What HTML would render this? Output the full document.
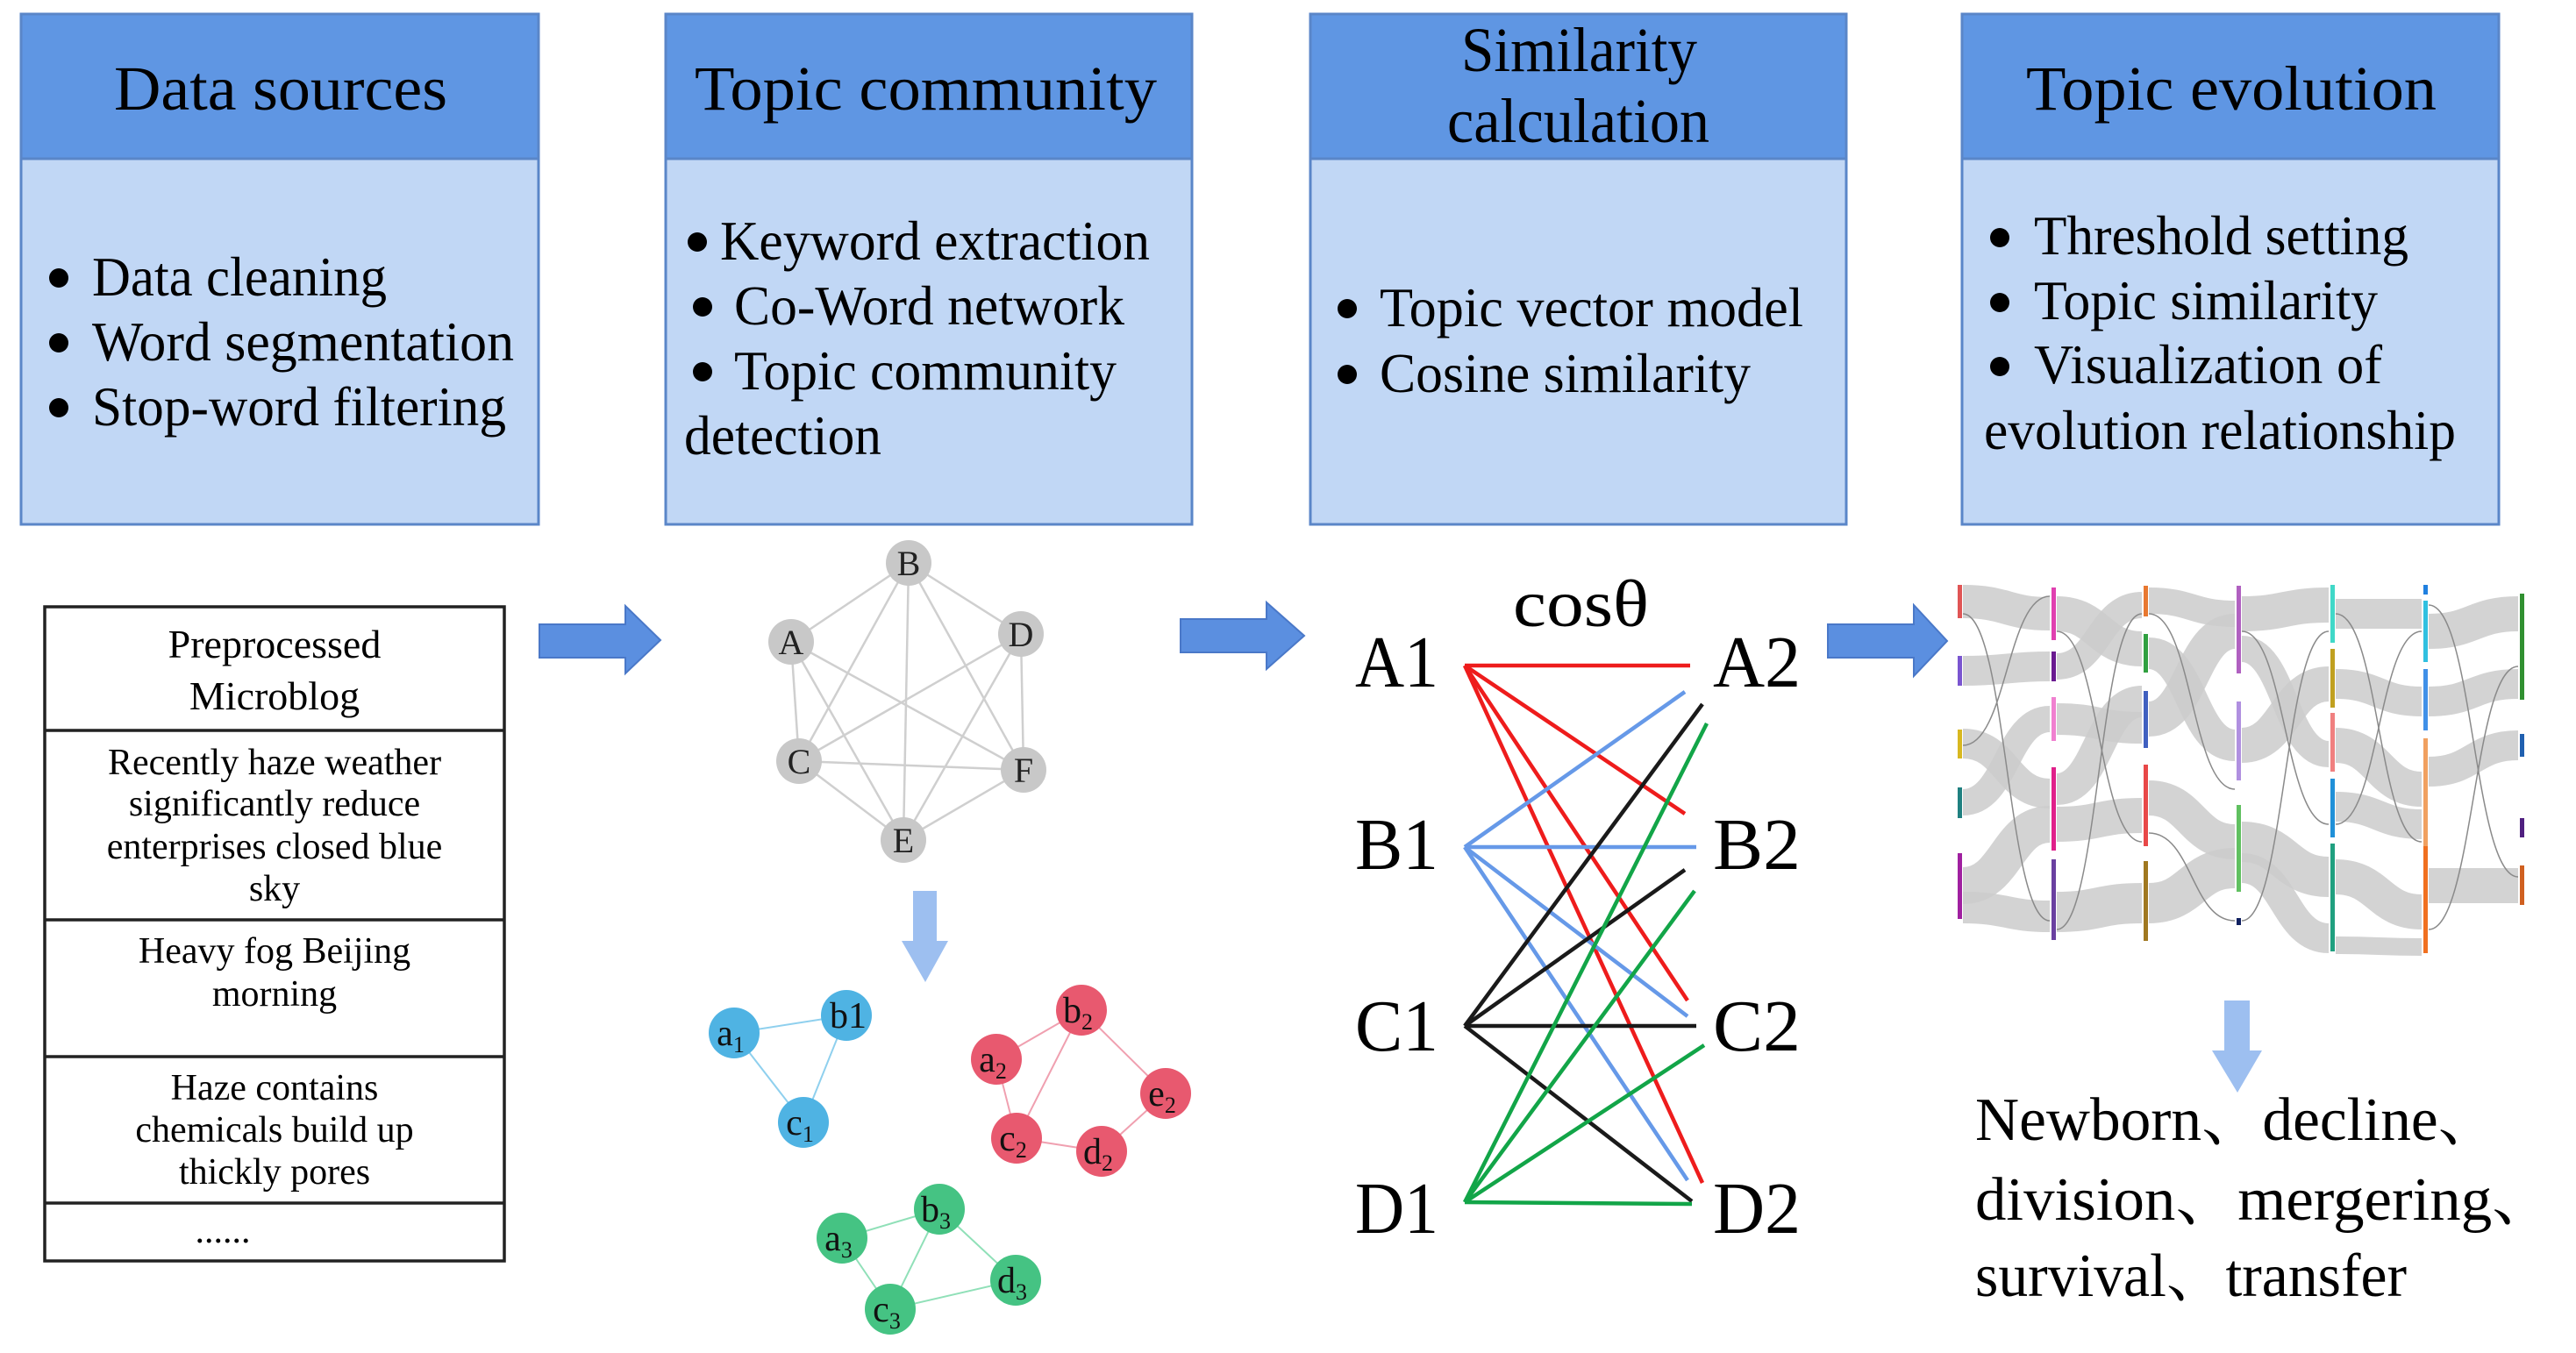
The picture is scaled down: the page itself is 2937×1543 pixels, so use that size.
<!DOCTYPE html>
<html><head><meta charset="utf-8"><style>html,body{margin:0;padding:0;background:#fff}svg{display:block}svg text{font-family:"Liberation Serif","Noto Serif CJK SC",serif}</style></head>
<body>
<svg width="2937" height="1543" viewBox="0 0 2937 1543" xmlns="http://www.w3.org/2000/svg">
<g stroke="#5a86c8" stroke-width="3">
<rect x="24" y="16" width="590" height="165" fill="#5f96e3"/><rect x="24" y="181" width="590" height="417" fill="#c1d7f5"/>
<rect x="759" y="16" width="600" height="165" fill="#5f96e3"/><rect x="759" y="181" width="600" height="417" fill="#c1d7f5"/>
<rect x="1494" y="16" width="611" height="165" fill="#5f96e3"/><rect x="1494" y="181" width="611" height="417" fill="#c1d7f5"/>
<rect x="2237" y="16" width="612" height="165" fill="#5f96e3"/><rect x="2237" y="181" width="612" height="417" fill="#c1d7f5"/>
</g>
<g fill="#000" font-size="72">
<text x="130" y="125" textLength="380" lengthAdjust="spacingAndGlyphs">Data sources</text>
<text x="792" y="125" textLength="527" lengthAdjust="spacingAndGlyphs">Topic community</text>
<text x="1666" y="81" textLength="269" lengthAdjust="spacingAndGlyphs">Similarity</text>
<text x="1650" y="162" textLength="299" lengthAdjust="spacingAndGlyphs">calculation</text>
<text x="2310" y="125" textLength="468" lengthAdjust="spacingAndGlyphs">Topic evolution</text>
</g>
<g fill="#000" font-size="64">
<circle cx="67" cy="317" r="11"/><circle cx="67" cy="391" r="11"/><circle cx="67" cy="465" r="11"/>
<text x="105" y="337" textLength="336" lengthAdjust="spacingAndGlyphs">Data cleaning</text>
<text x="105" y="411" textLength="481" lengthAdjust="spacingAndGlyphs">Word segmentation</text>
<text x="105" y="485" textLength="472" lengthAdjust="spacingAndGlyphs">Stop-word filtering</text>
<circle cx="795" cy="276" r="11"/><circle cx="801" cy="350" r="11"/><circle cx="801" cy="424" r="11"/>
<text x="821" y="296" textLength="490" lengthAdjust="spacingAndGlyphs">Keyword extraction</text>
<text x="837" y="370" textLength="445" lengthAdjust="spacingAndGlyphs">Co-Word network</text>
<text x="837" y="444" textLength="436" lengthAdjust="spacingAndGlyphs">Topic community</text>
<text x="780" y="518" textLength="225" lengthAdjust="spacingAndGlyphs">detection</text>
<circle cx="1536" cy="352" r="11"/><circle cx="1536" cy="427" r="11"/>
<text x="1573" y="372" textLength="483" lengthAdjust="spacingAndGlyphs">Topic vector model</text>
<text x="1573" y="447" textLength="423" lengthAdjust="spacingAndGlyphs">Cosine similarity</text>
<circle cx="2280" cy="271" r="11"/><circle cx="2280" cy="345" r="11"/><circle cx="2280" cy="418" r="11"/>
<text x="2319" y="290" textLength="427" lengthAdjust="spacingAndGlyphs">Threshold setting</text>
<text x="2319" y="364" textLength="392" lengthAdjust="spacingAndGlyphs">Topic similarity</text>
<text x="2319" y="437" textLength="397" lengthAdjust="spacingAndGlyphs">Visualization of</text>
<text x="2262" y="512" textLength="538" lengthAdjust="spacingAndGlyphs">evolution relationship</text>
</g>
<g fill="none" stroke="#222" stroke-width="3.5">
<rect x="51" y="692" width="524" height="746"/>
<line x1="51" y1="833" x2="575" y2="833"/><line x1="51" y1="1049" x2="575" y2="1049"/>
<line x1="51" y1="1205" x2="575" y2="1205"/><line x1="51" y1="1372" x2="575" y2="1372"/>
</g>
<g fill="#000" font-size="46" text-anchor="middle">
<text x="313" y="750">Preprocessed</text><text x="313" y="809">Microblog</text>
</g>
<g fill="#000" font-size="42" text-anchor="middle">
<text x="313" y="883">Recently haze weather</text>
<text x="313" y="930">significantly reduce</text>
<text x="313" y="979">enterprises closed blue</text>
<text x="313" y="1027">sky</text>
<text x="313" y="1098">Heavy fog Beijing</text>
<text x="313" y="1147">morning</text>
<text x="313" y="1254">Haze contains</text>
<text x="313" y="1302">chemicals build up</text>
<text x="313" y="1350">thickly pores</text>
<text x="254" y="1417">......</text>
</g>
<g fill="#5b8fe0" stroke="#4a78c8" stroke-width="2">
<polygon points="615,712 713,712 713,691 753,730 713,768 713,750 615,750"/>
<polygon points="1346,706 1444,706 1444,687 1487,725 1444,763 1444,744 1346,744"/>
<polygon points="2084,712 2182,712 2182,690 2220,731 2182,771 2182,750 2084,750"/>
</g>
<g fill="#9dbff0">
<polygon points="1041,1016 1068,1016 1068,1073 1081,1073 1055,1120 1028,1073 1041,1073"/>
<polygon points="2536,1141 2565,1141 2565,1198 2579,1198 2551,1246 2522,1198 2536,1198"/>
</g>
<g stroke="#cfcfcf" stroke-width="2.5">
<line x1="1036" y1="642" x2="902" y2="732"/><line x1="1036" y1="642" x2="1164" y2="723"/>
<line x1="1036" y1="642" x2="1030" y2="958"/><line x1="1036" y1="642" x2="911" y2="868"/>
<line x1="1036" y1="642" x2="1167" y2="878"/><line x1="902" y1="732" x2="911" y2="868"/>
<line x1="902" y1="732" x2="1167" y2="878"/><line x1="902" y1="732" x2="1030" y2="958"/>
<line x1="911" y1="868" x2="1164" y2="723"/><line x1="911" y1="868" x2="1167" y2="878"/>
<line x1="911" y1="868" x2="1030" y2="958"/><line x1="1164" y1="723" x2="1167" y2="878"/>
<line x1="1164" y1="723" x2="1030" y2="958"/><line x1="1167" y1="878" x2="1030" y2="958"/>
</g>
<g fill="#c8c8c8"><circle cx="1036" cy="642" r="26"/><circle cx="902" cy="732" r="26"/><circle cx="1164" cy="723" r="26"/><circle cx="911" cy="868" r="26"/><circle cx="1167" cy="878" r="26"/><circle cx="1030" cy="958" r="26"/></g>
<g fill="#222" font-size="40" text-anchor="middle">
<text x="1036" y="656">B</text><text x="902" y="746">A</text><text x="1164" y="737">D</text><text x="911" y="882">C</text><text x="1167" y="892">F</text><text x="1030" y="972">E</text>
</g>
<g stroke-width="2">
<g stroke="#8fd0ee"><line x1="837" y1="1178" x2="965" y2="1158"/><line x1="965" y1="1158" x2="916" y2="1280"/><line x1="837" y1="1178" x2="916" y2="1280"/></g>
<g stroke="#f0a0b0"><line x1="1136" y1="1208" x2="1233" y2="1152"/><line x1="1233" y1="1152" x2="1329" y2="1247"/><line x1="1329" y1="1247" x2="1256" y2="1313"/><line x1="1256" y1="1313" x2="1159" y2="1298"/><line x1="1159" y1="1298" x2="1136" y2="1208"/><line x1="1233" y1="1152" x2="1159" y2="1298"/></g>
<g stroke="#90e0b8"><line x1="960" y1="1412" x2="1071" y2="1379"/><line x1="1071" y1="1379" x2="1158" y2="1460"/><line x1="1158" y1="1460" x2="1015" y2="1493"/><line x1="1015" y1="1493" x2="960" y2="1412"/><line x1="1071" y1="1379" x2="1015" y2="1493"/></g>
</g>
<g fill="#4fb3e3"><circle cx="837" cy="1178" r="29"/><circle cx="965" cy="1158" r="29"/><circle cx="916" cy="1280" r="29"/></g>
<g fill="#e8596f"><circle cx="1233" cy="1152" r="29"/><circle cx="1136" cy="1208" r="29"/><circle cx="1329" cy="1247" r="29"/><circle cx="1159" cy="1298" r="29"/><circle cx="1256" cy="1313" r="29"/></g>
<g fill="#45c383"><circle cx="1071" cy="1379" r="29"/><circle cx="960" cy="1412" r="29"/><circle cx="1158" cy="1460" r="29"/><circle cx="1015" cy="1493" r="29"/></g>
<g fill="#111" font-size="42" text-anchor="middle">
<text x="833" y="1192">a<tspan font-size="26" dy="8">1</tspan></text>
<text x="967" y="1172">b1</text>
<text x="912" y="1294">c<tspan font-size="26" dy="8">1</tspan></text>
<text x="1229" y="1166">b<tspan font-size="26" dy="8">2</tspan></text>
<text x="1132" y="1222">a<tspan font-size="26" dy="8">2</tspan></text>
<text x="1325" y="1261">e<tspan font-size="26" dy="8">2</tspan></text>
<text x="1155" y="1312">c<tspan font-size="26" dy="8">2</tspan></text>
<text x="1252" y="1327">d<tspan font-size="26" dy="8">2</tspan></text>
<text x="1067" y="1393">b<tspan font-size="26" dy="8">3</tspan></text>
<text x="956" y="1426">a<tspan font-size="26" dy="8">3</tspan></text>
<text x="1154" y="1474">d<tspan font-size="26" dy="8">3</tspan></text>
<text x="1011" y="1507">c<tspan font-size="26" dy="8">3</tspan></text>
</g>
<g stroke-width="4.5" fill="none">
<g stroke="#ee1c1c"><line x1="1670" y1="759" x2="1927" y2="759"/><line x1="1670" y1="759" x2="1921" y2="928"/><line x1="1670" y1="759" x2="1924" y2="1141"/><line x1="1670" y1="759" x2="1941" y2="1349"/></g>
<g stroke="#6699e8"><line x1="1670" y1="966" x2="1921" y2="789"/><line x1="1670" y1="966" x2="1934" y2="966"/><line x1="1670" y1="966" x2="1924" y2="1159"/><line x1="1670" y1="966" x2="1924" y2="1346"/></g>
<g stroke="#1a1a1a"><line x1="1670" y1="1170" x2="1941" y2="803"/><line x1="1670" y1="1170" x2="1921" y2="992"/><line x1="1670" y1="1170" x2="1934" y2="1170"/><line x1="1670" y1="1170" x2="1929" y2="1370"/></g>
<g stroke="#12a548"><line x1="1670" y1="1371" x2="1946" y2="825"/><line x1="1670" y1="1371" x2="1932" y2="1016"/><line x1="1670" y1="1371" x2="1943" y2="1192"/><line x1="1670" y1="1371" x2="1929" y2="1373"/></g>
</g>
<g fill="#000" font-size="84">
<text x="1545" y="783" textLength="95" lengthAdjust="spacingAndGlyphs">A1</text>
<text x="1545" y="991" textLength="95" lengthAdjust="spacingAndGlyphs">B1</text>
<text x="1545" y="1198" textLength="95" lengthAdjust="spacingAndGlyphs">C1</text>
<text x="1545" y="1406" textLength="95" lengthAdjust="spacingAndGlyphs">D1</text>
<text x="1953" y="783" textLength="100" lengthAdjust="spacingAndGlyphs">A2</text>
<text x="1953" y="991" textLength="100" lengthAdjust="spacingAndGlyphs">B2</text>
<text x="1953" y="1198" textLength="100" lengthAdjust="spacingAndGlyphs">C2</text>
<text x="1953" y="1406" textLength="100" lengthAdjust="spacingAndGlyphs">D2</text>
<text x="1725" y="714" font-size="76" textLength="155" lengthAdjust="spacingAndGlyphs">cosθ</text>
</g>
<g fill="none" stroke="#cbcbcb" stroke-opacity="0.85">
<path d="M2238 686C2288 686 2288 700 2337 700" stroke-width="38"/>
<path d="M2238 765C2288 765 2288 760 2337 760" stroke-width="34"/>
<path d="M2238 848C2288 848 2288 905 2337 905" stroke-width="34"/>
<path d="M2238 915C2288 915 2288 820 2337 820" stroke-width="30"/>
<path d="M2238 1010C2288 1010 2288 940 2337 940" stroke-width="42"/>
<path d="M2238 1035C2288 1035 2288 1045 2337 1045" stroke-width="36"/>
<path d="M2345 700C2393 700 2393 740 2442 740" stroke-width="40"/>
<path d="M2345 760C2393 760 2393 690 2442 690" stroke-width="30"/>
<path d="M2345 820C2393 820 2393 830 2442 830" stroke-width="36"/>
<path d="M2345 900C2393 900 2393 800 2442 800" stroke-width="36"/>
<path d="M2345 940C2393 940 2393 930 2442 930" stroke-width="40"/>
<path d="M2345 1040C2393 1040 2393 1030 2442 1030" stroke-width="46"/>
<path d="M2450 685C2499 685 2499 700 2548 700" stroke-width="30"/>
<path d="M2450 745C2499 745 2499 850 2548 850" stroke-width="36"/>
<path d="M2450 820C2499 820 2499 720 2548 720" stroke-width="40"/>
<path d="M2450 910C2499 910 2499 960 2548 960" stroke-width="40"/>
<path d="M2450 1030C2499 1030 2499 990 2548 990" stroke-width="46"/>
<path d="M2556 700C2605 700 2605 690 2655 690" stroke-width="40"/>
<path d="M2556 740C2605 740 2605 860 2655 860" stroke-width="30"/>
<path d="M2556 850C2605 850 2605 780 2655 780" stroke-width="40"/>
<path d="M2556 960C2605 960 2605 1000 2655 1000" stroke-width="46"/>
<path d="M2556 990C2605 990 2605 1070 2655 1070" stroke-width="34"/>
<path d="M2663 700C2712 700 2712 700 2761 700" stroke-width="34"/>
<path d="M2663 780C2712 780 2712 800 2761 800" stroke-width="34"/>
<path d="M2663 850C2712 850 2712 900 2761 900" stroke-width="40"/>
<path d="M2663 920C2712 920 2712 940 2761 940" stroke-width="34"/>
<path d="M2663 1000C2712 1000 2712 1040 2761 1040" stroke-width="40"/>
<path d="M2663 1078C2712 1078 2712 1080 2761 1080" stroke-width="20"/>
<path d="M2769 720C2820 720 2820 700 2871 700" stroke-width="40"/>
<path d="M2769 800C2820 800 2820 780 2871 780" stroke-width="34"/>
<path d="M2769 880C2820 880 2820 850 2871 850" stroke-width="34"/>
<path d="M2769 1010C2820 1010 2820 1010 2871 1010" stroke-width="40"/>
</g>
<g fill="none" stroke="#8a8a8a" stroke-width="1.5">
<path d="M2238 700C2288 700 2288 1050 2337 1050"/><path d="M2238 850C2288 850 2288 680 2337 680"/>
<path d="M2345 720C2393 720 2393 960 2442 960"/><path d="M2345 1060C2393 1060 2393 700 2442 700"/>
<path d="M2450 950C2499 950 2499 1050 2548 1050"/><path d="M2450 700C2499 700 2499 900 2548 900"/>
<path d="M2556 720C2605 720 2605 940 2655 940"/><path d="M2556 1050C2605 1050 2605 720 2655 720"/>
<path d="M2663 940C2712 940 2712 720 2761 720"/><path d="M2663 700C2712 700 2712 960 2761 960"/>
<path d="M2769 1060C2820 1060 2820 760 2871 760"/><path d="M2769 690C2820 690 2820 1000 2871 1000"/>
</g>
<g>
<rect x="2232" y="667" width="5" height="38" fill="#e05555"/><rect x="2232" y="748" width="5" height="34" fill="#7a55d0"/><rect x="2232" y="832" width="5" height="33" fill="#d8b820"/><rect x="2232" y="898" width="5" height="35" fill="#1f8080"/><rect x="2232" y="973" width="5" height="75" fill="#a020a0"/>
<rect x="2339" y="670" width="5" height="60" fill="#e040b0"/><rect x="2339" y="743" width="5" height="34" fill="#6a1a90"/><rect x="2339" y="795" width="5" height="50" fill="#f080d0"/><rect x="2339" y="875" width="5" height="95" fill="#e0208a"/><rect x="2339" y="980" width="5" height="92" fill="#6a40a0"/>
<rect x="2444" y="668" width="5" height="35" fill="#e87830"/><rect x="2444" y="723" width="5" height="44" fill="#30a040"/><rect x="2444" y="788" width="5" height="65" fill="#4060c0"/><rect x="2444" y="872" width="5" height="93" fill="#e84848"/><rect x="2444" y="982" width="5" height="91" fill="#a07820"/>
<rect x="2550" y="668" width="5" height="100" fill="#b060c0"/><rect x="2550" y="800" width="5" height="90" fill="#b090e0"/><rect x="2550" y="918" width="5" height="99" fill="#60c060"/><rect x="2550" y="1047" width="5" height="8" fill="#102060"/>
<rect x="2657" y="667" width="5" height="66" fill="#40d8c8"/><rect x="2657" y="740" width="5" height="67" fill="#c0a020"/><rect x="2657" y="813" width="5" height="67" fill="#f08080"/><rect x="2657" y="888" width="5" height="67" fill="#2090d8"/><rect x="2657" y="962" width="5" height="123" fill="#20a080"/>
<rect x="2763" y="667" width="5" height="11" fill="#2080e0"/><rect x="2763" y="685" width="5" height="70" fill="#30c0e0"/><rect x="2763" y="763" width="5" height="70" fill="#4090e8"/><rect x="2763" y="842" width="5" height="123" fill="#f0a060"/><rect x="2763" y="965" width="5" height="122" fill="#f07020"/>
<rect x="2873" y="677" width="5" height="121" fill="#309030"/><rect x="2873" y="837" width="5" height="26" fill="#2060b0"/><rect x="2873" y="933" width="5" height="22" fill="#502080"/><rect x="2873" y="987" width="5" height="45" fill="#d06020"/>
</g>
<g fill="#000" font-size="70">
<text x="2252" y="1300" textLength="597" lengthAdjust="spacingAndGlyphs">Newborn、decline、</text>
<text x="2252" y="1391" textLength="660" lengthAdjust="spacingAndGlyphs">division、mergering、</text>
<text x="2252" y="1478" textLength="492" lengthAdjust="spacingAndGlyphs">survival、transfer</text>
</g>
</svg>
</body></html>
